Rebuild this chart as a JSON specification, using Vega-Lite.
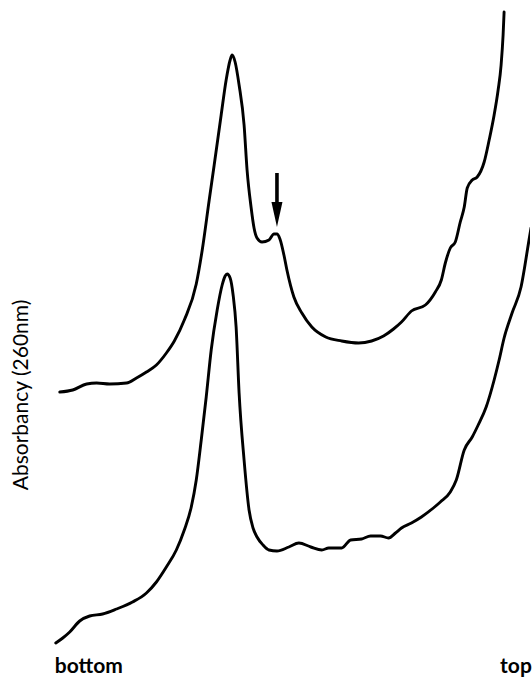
{
  "$schema": "https://vega.github.io/schema/vega-lite/v6.json",
  "width": 532,
  "height": 679,
  "autosize": {"type": "fit", "contains": "padding"},
  "padding": 0,
  "background": "white",
  "config": {"view": {"stroke": null}},
  "datasets": {
    "profiles": [
      {"series": "upper", "pos": 6.0, "abs": 2.87}, {"series": "upper", "pos": 7.3, "abs": 2.89}, {"series": "upper", "pos": 8.7, "abs": 2.95}, {"series": "upper", "pos": 9.7, "abs": 2.96}, {"series": "upper", "pos": 11.0, "abs": 2.95}, {"series": "upper", "pos": 12.7, "abs": 2.96}, {"series": "upper", "pos": 13.7, "abs": 3.01}, {"series": "upper", "pos": 14.7, "abs": 3.07}, {"series": "upper", "pos": 15.7, "abs": 3.14}, {"series": "upper", "pos": 16.7, "abs": 3.26}, {"series": "upper", "pos": 17.5, "abs": 3.38}, {"series": "upper", "pos": 18.5, "abs": 3.59}, {"series": "upper", "pos": 19.7, "abs": 3.95}, {"series": "upper", "pos": 20.3, "abs": 4.29}, {"series": "upper", "pos": 21.0, "abs": 4.79}, {"series": "upper", "pos": 21.5, "abs": 5.14}, {"series": "upper", "pos": 22.2, "abs": 5.64}, {"series": "upper", "pos": 22.7, "abs": 5.99}, {"series": "upper", "pos": 23.1, "abs": 6.19}, {"series": "upper", "pos": 23.3, "abs": 6.24}, {"series": "upper", "pos": 23.6, "abs": 6.17}, {"series": "upper", "pos": 24.0, "abs": 5.94}, {"series": "upper", "pos": 24.5, "abs": 5.54}, {"series": "upper", "pos": 24.8, "abs": 5.09}, {"series": "upper", "pos": 25.2, "abs": 4.72}, {"series": "upper", "pos": 25.5, "abs": 4.51}, {"series": "upper", "pos": 25.8, "abs": 4.41}, {"series": "upper", "pos": 26.3, "abs": 4.37}, {"series": "upper", "pos": 27.0, "abs": 4.39}, {"series": "upper", "pos": 27.5, "abs": 4.45}, {"series": "upper", "pos": 27.8, "abs": 4.45}, {"series": "upper", "pos": 28.1, "abs": 4.40}, {"series": "upper", "pos": 28.5, "abs": 4.24}, {"series": "upper", "pos": 28.8, "abs": 4.09}, {"series": "upper", "pos": 29.5, "abs": 3.82}, {"series": "upper", "pos": 30.3, "abs": 3.66}, {"series": "upper", "pos": 31.3, "abs": 3.52}, {"series": "upper", "pos": 32.7, "abs": 3.42}, {"series": "upper", "pos": 34.3, "abs": 3.38}, {"series": "upper", "pos": 36.0, "abs": 3.36}, {"series": "upper", "pos": 37.3, "abs": 3.38}, {"series": "upper", "pos": 38.5, "abs": 3.43}, {"series": "upper", "pos": 39.5, "abs": 3.50}, {"series": "upper", "pos": 40.3, "abs": 3.57}, {"series": "upper", "pos": 41.3, "abs": 3.68}, {"series": "upper", "pos": 42.7, "abs": 3.74}, {"series": "upper", "pos": 43.7, "abs": 3.87}, {"series": "upper", "pos": 44.3, "abs": 3.99}, {"series": "upper", "pos": 44.7, "abs": 4.16}, {"series": "upper", "pos": 45.2, "abs": 4.31}, {"series": "upper", "pos": 45.7, "abs": 4.37}, {"series": "upper", "pos": 46.2, "abs": 4.57}, {"series": "upper", "pos": 46.6, "abs": 4.72}, {"series": "upper", "pos": 46.9, "abs": 4.91}, {"series": "upper", "pos": 47.4, "abs": 4.99}, {"series": "upper", "pos": 47.9, "abs": 5.02}, {"series": "upper", "pos": 48.6, "abs": 5.17}, {"series": "upper", "pos": 49.1, "abs": 5.39}, {"series": "upper", "pos": 49.6, "abs": 5.64}, {"series": "upper", "pos": 50.0, "abs": 5.89}, {"series": "upper", "pos": 50.3, "abs": 6.14}, {"series": "upper", "pos": 50.5, "abs": 6.44}, {"series": "upper", "pos": 50.6, "abs": 6.67},
      {"series": "lower", "pos": 5.6, "abs": 0.36}, {"series": "lower", "pos": 6.3, "abs": 0.41}, {"series": "lower", "pos": 7.0, "abs": 0.47}, {"series": "lower", "pos": 8.0, "abs": 0.58}, {"series": "lower", "pos": 9.0, "abs": 0.63}, {"series": "lower", "pos": 10.3, "abs": 0.65}, {"series": "lower", "pos": 11.7, "abs": 0.70}, {"series": "lower", "pos": 13.3, "abs": 0.77}, {"series": "lower", "pos": 14.7, "abs": 0.86}, {"series": "lower", "pos": 15.7, "abs": 0.97}, {"series": "lower", "pos": 16.7, "abs": 1.12}, {"series": "lower", "pos": 17.7, "abs": 1.29}, {"series": "lower", "pos": 18.5, "abs": 1.49}, {"series": "lower", "pos": 19.2, "abs": 1.72}, {"series": "lower", "pos": 19.7, "abs": 1.99}, {"series": "lower", "pos": 20.2, "abs": 2.39}, {"series": "lower", "pos": 20.7, "abs": 2.82}, {"series": "lower", "pos": 21.2, "abs": 3.29}, {"series": "lower", "pos": 21.8, "abs": 3.69}, {"series": "lower", "pos": 22.3, "abs": 3.94}, {"series": "lower", "pos": 22.6, "abs": 4.03}, {"series": "lower", "pos": 22.8, "abs": 4.05}, {"series": "lower", "pos": 23.1, "abs": 4.01}, {"series": "lower", "pos": 23.4, "abs": 3.84}, {"series": "lower", "pos": 23.7, "abs": 3.52}, {"series": "lower", "pos": 24.0, "abs": 2.86}, {"series": "lower", "pos": 24.5, "abs": 2.19}, {"series": "lower", "pos": 25.0, "abs": 1.69}, {"series": "lower", "pos": 25.4, "abs": 1.51}, {"series": "lower", "pos": 25.8, "abs": 1.42}, {"series": "lower", "pos": 26.4, "abs": 1.34}, {"series": "lower", "pos": 27.0, "abs": 1.29}, {"series": "lower", "pos": 27.8, "abs": 1.28}, {"series": "lower", "pos": 29.0, "abs": 1.32}, {"series": "lower", "pos": 30.0, "abs": 1.36}, {"series": "lower", "pos": 31.2, "abs": 1.32}, {"series": "lower", "pos": 32.3, "abs": 1.29}, {"series": "lower", "pos": 33.0, "abs": 1.31}, {"series": "lower", "pos": 34.3, "abs": 1.31}, {"series": "lower", "pos": 35.2, "abs": 1.39}, {"series": "lower", "pos": 36.3, "abs": 1.40}, {"series": "lower", "pos": 37.2, "abs": 1.43}, {"series": "lower", "pos": 38.2, "abs": 1.43}, {"series": "lower", "pos": 39.0, "abs": 1.41}, {"series": "lower", "pos": 39.7, "abs": 1.46}, {"series": "lower", "pos": 40.3, "abs": 1.51}, {"series": "lower", "pos": 41.3, "abs": 1.56}, {"series": "lower", "pos": 42.3, "abs": 1.62}, {"series": "lower", "pos": 43.5, "abs": 1.71}, {"series": "lower", "pos": 44.2, "abs": 1.77}, {"series": "lower", "pos": 45.2, "abs": 1.87}, {"series": "lower", "pos": 45.8, "abs": 1.99}, {"series": "lower", "pos": 46.6, "abs": 2.29}, {"series": "lower", "pos": 47.4, "abs": 2.42}, {"series": "lower", "pos": 48.0, "abs": 2.54}, {"series": "lower", "pos": 48.8, "abs": 2.72}, {"series": "lower", "pos": 49.6, "abs": 2.99}, {"series": "lower", "pos": 50.1, "abs": 3.19}, {"series": "lower", "pos": 50.6, "abs": 3.41}, {"series": "lower", "pos": 51.4, "abs": 3.66}, {"series": "lower", "pos": 52.3, "abs": 3.92}, {"series": "lower", "pos": 53.1, "abs": 4.39}, {"series": "lower", "pos": 53.3, "abs": 4.51}
    ],
    "arrow": [{"pos": 27.8, "top": 5.06, "base": 4.74, "head": 4.645}],
    "labels": [
      {"text": "bottom", "pos": 5.5, "abs": 0.06},
      {"text": "top", "pos": 50.2, "abs": 0.06}
    ],
    "ytitle": [{"text": "Absorbancy (260nm)", "pos": 2.2, "abs": 2.84}]
  },
  "layer": [
    {
      "data": {"name": "profiles"},
      "mark": {"type": "line", "color": "black", "strokeWidth": 2.9, "interpolate": "monotone", "clip": true, "strokeJoin": "round", "strokeCap": "round"},
      "encoding": {
        "x": {"field": "pos", "type": "quantitative", "scale": {"domain": [0, 53.2], "nice": false, "zero": false}, "axis": null},
        "y": {"field": "abs", "type": "quantitative", "scale": {"domain": [0, 6.79], "nice": false, "zero": false}, "axis": null},
        "detail": {"field": "series"}
      }
    },
    {
      "data": {"name": "arrow"},
      "mark": {"type": "rule", "color": "black", "strokeWidth": 3.6},
      "encoding": {
        "x": {"field": "pos", "type": "quantitative"},
        "y": {"field": "top", "type": "quantitative"},
        "y2": {"field": "base"}
      }
    },
    {
      "data": {"name": "arrow"},
      "mark": {"type": "point", "shape": "M0,1L-0.44,-1L0.44,-1Z", "filled": true, "color": "black", "size": 625, "opacity": 1},
      "encoding": {
        "x": {"field": "pos", "type": "quantitative"},
        "y": {"field": "head", "type": "quantitative"}
      }
    },
    {
      "data": {"name": "labels"},
      "mark": {"type": "text", "align": "left", "baseline": "alphabetic", "font": "Lato", "fontSize": 21, "fontWeight": "bold", "color": "black"},
      "encoding": {
        "x": {"field": "pos", "type": "quantitative"},
        "y": {"field": "abs", "type": "quantitative"},
        "text": {"field": "text"}
      }
    },
    {
      "data": {"name": "ytitle"},
      "mark": {"type": "text", "align": "center", "baseline": "middle", "angle": 270, "font": "Lato", "fontSize": 21, "color": "black"},
      "encoding": {
        "x": {"field": "pos", "type": "quantitative"},
        "y": {"field": "abs", "type": "quantitative"},
        "text": {"field": "text"}
      }
    }
  ]
}
